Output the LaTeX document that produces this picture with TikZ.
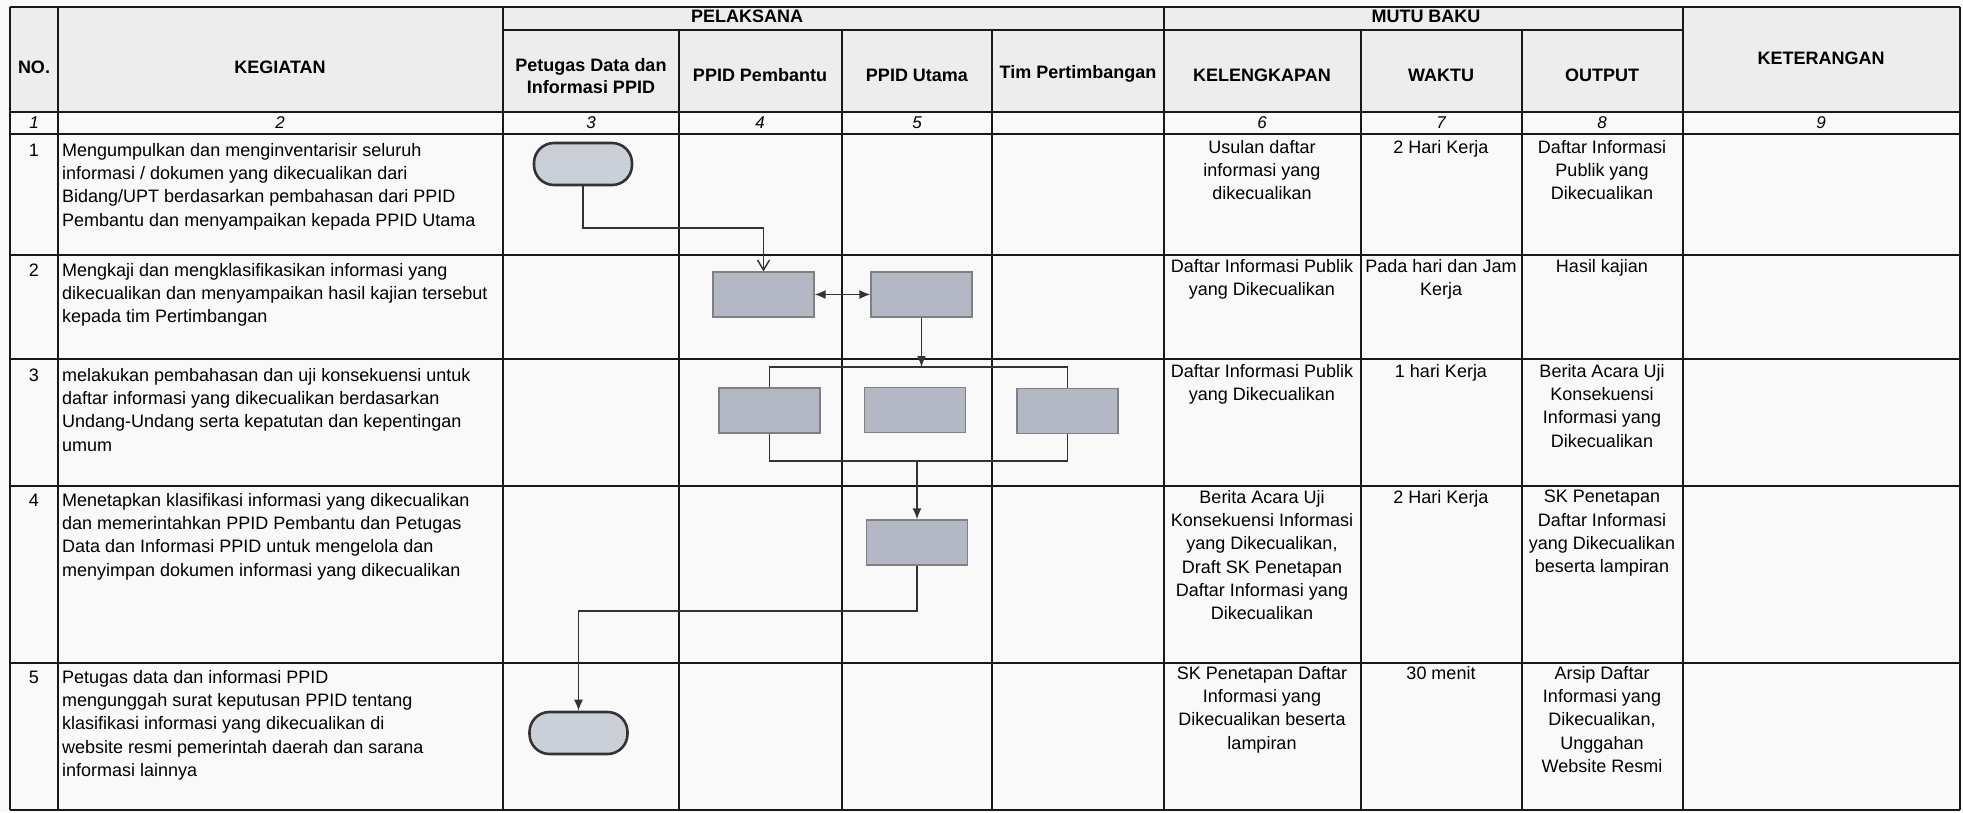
\documentclass[tikz,border=0pt]{standalone}
\usepackage{fontspec}
\setmainfont{Liberation Sans}
\usetikzlibrary{arrows.meta,positioning,calc}
\definecolor{boxgray}{HTML}{B4B8C4}
\definecolor{termgray}{HTML}{CBCFD8}
\definecolor{paper}{HTML}{F9F9F9}

\begin{document}
\begin{tikzpicture}[x=1pt, y=-1pt,
  grid/.style={line width=1.8pt, draw=black!90},
  hdr/.style={font=\bfseries\fontsize{18}{22}\selectfont, align=center},
  num/.style={font=\itshape\fontsize{17}{20}\selectfont},
  txt/.style={font=\fontsize{18}{23.3}\selectfont, align=left, anchor=north west, inner sep=0pt},
  ctr/.style={font=\fontsize{18}{23.3}\selectfont, align=center, anchor=north, inner sep=0pt},
  proc/.style={draw=black!50, line width=1.3pt, fill=boxgray, minimum width=101pt, minimum height=45pt, inner sep=0pt},
  term/.style={draw=black!80, line width=2.6pt, fill=termgray, rounded corners=20pt, minimum width=98pt, minimum height=42pt, inner sep=0pt},
  line/.style={line width=1.4pt, draw=black!80},
  flow/.style={line, -{Latex[length=11pt,width=9pt]}},
]

  % page and header shading
  \fill[paper] (0,0) rectangle (1963,812);
  \useasboundingbox (0,0) rectangle (1963,812);
  \fill[black!7] (10,7) rectangle (1960,112);

  % table lines
  \foreach \y in {7,112,134,255,359,486,663,810}
    \draw[grid] (10,\y) -- (1960,\y);
  \draw[grid] (503,30) -- (1683,30);
  \foreach \x in {10,58,503,1164,1683,1960}
    \draw[grid] (\x,7) -- (\x,810);
  \foreach \x in {679,842,992,1361,1522}
    \draw[grid] (\x,30) -- (\x,810);

  % header
  \node[hdr] (hNo) at (34,67) {NO.};
  \node[hdr] (hKeg) at (280,67) {KEGIATAN};
  \node[hdr] (hPel) at (747,16) {PELAKSANA};
  \node[hdr] (hMutu) at (1426,16) {MUTU BAKU};
  \node[hdr] (hKet) at (1821,58) {KETERANGAN};
  \node[hdr] (hPetugas) at (591,76) {Petugas Data dan\\Informasi PPID};
  \node[hdr] (hPembantu) at (760,75) {PPID Pembantu};
  \node[hdr] (hUtama) at (917,75) {PPID Utama};
  \node[hdr] (hTim) at (1078,74) {Tim Pertimbangan};
  \node[hdr] (hLengkap) at (1262,75) {KELENGKAPAN};
  \node[hdr] (hWaktu) at (1441,75) {WAKTU};
  \node[hdr] (hOutput) at (1602,75) {OUTPUT};

  % column numbers
  \foreach \x/\n in {34/1,280/2,591/3,760/4,917/5,1262/6,1441/7,1602/8,1821/9}
    \node[num] (c\n) at (\x,123) {\n};

  % row numbers
  \foreach \y/\n in {150/1,270/2,375/3,500/4,677/5}
    \node[font=\fontsize{18}{20}\selectfont] (r\n) at (34,\y) {\n};

  % kegiatan
  \node[txt] (k1) at (62,143) {Mengumpulkan dan menginventarisir seluruh\\informasi / dokumen yang dikecualikan dari\\Bidang/UPT berdasarkan pembahasan dari PPID\\Pembantu dan menyampaikan kepada PPID Utama};
  \node[txt] (k2) at (62,263) {Mengkaji dan mengklasifikasikan informasi yang\\dikecualikan dan menyampaikan hasil kajian tersebut\\kepada tim Pertimbangan};
  \node[txt] (k3) at (62,368) {melakukan pembahasan dan uji konsekuensi untuk\\daftar informasi yang dikecualikan berdasarkan\\Undang-Undang serta kepatutan dan kepentingan\\umum};
  \node[txt] (k4) at (62,493) {Menetapkan klasifikasi informasi yang dikecualikan\\dan memerintahkan PPID Pembantu dan Petugas\\Data dan Informasi PPID untuk mengelola dan\\menyimpan dokumen informasi yang dikecualikan};
  \node[txt] (k5) at (62,670) {Petugas data dan informasi PPID\\mengunggah surat keputusan PPID tentang\\klasifikasi informasi yang dikecualikan di\\website resmi pemerintah daerah dan sarana\\informasi lainnya};

  % kelengkapan
  \node[ctr] (l1) at (1262,140) {Usulan daftar\\informasi yang\\dikecualikan};
  \node[ctr] (l2) at (1262,259) {Daftar Informasi Publik\\yang Dikecualikan};
  \node[ctr] (l3) at (1262,364) {Daftar Informasi Publik\\yang Dikecualikan};
  \node[ctr] (l4) at (1262,490) {Berita Acara Uji\\Konsekuensi Informasi\\yang Dikecualikan,\\Draft SK Penetapan\\Daftar Informasi yang\\Dikecualikan};
  \node[ctr] (l5) at (1262,666) {SK Penetapan Daftar\\Informasi yang\\Dikecualikan beserta\\lampiran};

  % waktu
  \node[ctr] (w1) at (1441,140) {2 Hari Kerja};
  \node[ctr] (w2) at (1441,259) {Pada hari dan Jam\\Kerja};
  \node[ctr] (w3) at (1441,364) {1 hari Kerja};
  \node[ctr] (w4) at (1441,490) {2 Hari Kerja};
  \node[ctr] (w5) at (1441,666) {30 menit};

  % output
  \node[ctr] (o1) at (1602,140) {Daftar Informasi\\Publik yang\\Dikecualikan};
  \node[ctr] (o2) at (1602,259) {Hasil kajian};
  \node[ctr] (o3) at (1602,364) {Berita Acara Uji\\Konsekuensi\\Informasi yang\\Dikecualikan};
  \node[ctr] (o4) at (1602,490) {SK Penetapan\\Daftar Informasi\\yang Dikecualikan\\beserta lampiran};
  \node[ctr] (o5) at (1602,666) {Arsip Daftar\\Informasi yang\\Dikecualikan,\\Unggahan\\Website Resmi};

  % flow shapes
  \node[term] (start) at (583,164) {};
  \node[proc] (kaji) at (763.5,294.5) {};
  \node[proc] (kajiU) at (921.5,294.5) {};
  \node[proc] (ujiB) at (769.5,410.5) {};
  \node[proc] (ujiU) at (915,410) {};
  \node[proc] (ujiT) at (1067.5,411) {};
  \node[proc] (tetap) at (917,542.5) {};
  \node[term] (finish) at (578.5,733) {};

  \coordinate (elbowA) at (0,228);
  \coordinate (brTop) at (0,367);
  \coordinate (brBot) at (0,461);
  \coordinate (elbowB) at (0,611);

  % connectors
  \draw[line, -{Straight Barb[length=10pt,width=12pt]}] (start.south) -- (start.south |- elbowA) -| (kaji.north);
  \draw[line, {Latex[length=11pt,width=9pt]}-{Latex[length=11pt,width=9pt]}] (kaji) -- (kajiU);
  \draw[flow] (kajiU.south) -- (kajiU.south |- brTop);
  \draw[line] (ujiB.north) -- (ujiB.north |- brTop) -- (ujiT.north |- brTop) -- (ujiT.north);
  \draw[line] (ujiB.south) -- (ujiB.south |- brBot) -- (ujiT.south |- brBot) -- (ujiT.south);
  \draw[flow] (tetap.north |- brBot) -- (tetap.north);
  \draw[flow] (tetap.south) -- (tetap.south |- elbowB) -| (finish.north);
\end{tikzpicture}
\end{document}
